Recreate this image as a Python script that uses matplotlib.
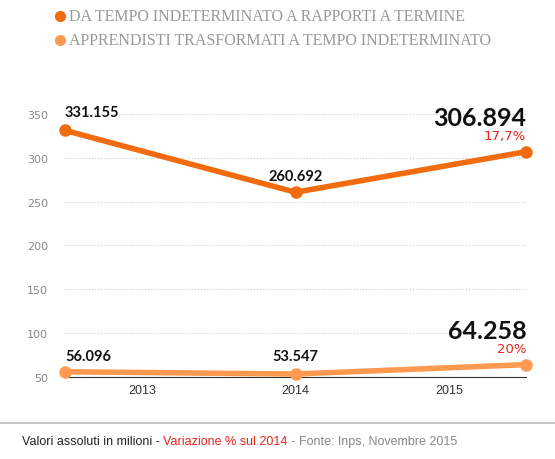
import matplotlib.pyplot as plt
from matplotlib.lines import Line2D

years = ["2013", "2014", "2015"]
xpos = [0, 1.5, 3]
tempo = [331.155, 260.692, 306.894]
appr = [56.096, 53.547, 64.258]
lab_tempo = ["331.155", "260.692", "306.894"]
lab_appr = ["56.096", "53.547", "64.258"]
c1 = "#f26b0f"
c2 = "#ff9a50"

fig = plt.figure(figsize=(5.55, 4.6), dpi=100)
ax = fig.add_axes([0.117, 0.178, 0.831, 0.62])
ax.plot(xpos, tempo, color=c1, lw=4, marker="o", ms=8, solid_capstyle="round", clip_on=False, zorder=3)
ax.plot(xpos, appr, color=c2, lw=4, marker="o", ms=8, solid_capstyle="round", clip_on=False, zorder=3)
ax.set_xlim(0, 3)
ax.set_ylim(50, 375)
ax.set_yticks([50, 100, 150, 200, 250, 300, 350])
ax.tick_params(axis="y", length=0, labelsize=8, labelcolor="#888888", pad=12)
ax.set_xticks([0, 1, 2, 3])
ax.set_xticklabels([])
ax.tick_params(axis="x", length=-6, color="#333333")
for x, y in zip([0.5, 1.5, 2.5], years):
    ax.text(x, 42, y, ha="center", va="top", fontsize=9, family="Liberation Sans", color="#333333")
for s in ["top", "right", "left"]:
    ax.spines[s].set_visible(False)
ax.spines["bottom"].set_color("#333333")
ax.grid(axis="y", ls=":", color="#cccccc", lw=0.8)
ax.set_axisbelow(True)

kw = dict(fontsize=10.5, fontweight="bold", family="Lato", color="#111111")
big = dict(fontsize=18, fontweight="bold", family="Lato", color="#111111")
ax.text(0, tempo[0] + 13, lab_tempo[0], ha="left", va="bottom", **kw)
ax.text(1.5, tempo[1] + 11, lab_tempo[1], ha="center", va="bottom", **kw)
ax.text(3, tempo[2] + 26, lab_tempo[2], ha="right", va="bottom", **big)
ax.text(3, tempo[2] + 11, "17,7%", ha="right", va="bottom", fontsize=9.5, color="#e8231f")
ax.text(0, appr[0] + 10, lab_appr[0], ha="left", va="bottom", **kw)
ax.text(1.5, appr[1] + 13, lab_appr[1], ha="center", va="bottom", **kw)
ax.text(3, appr[2] + 26, lab_appr[2], ha="right", va="bottom", **big)
ax.text(3, appr[2] + 11, "20%", ha="right", va="bottom", fontsize=9.5, color="#e8231f")

fig.text(0.125, 0.962, "DA TEMPO INDETERMINATO A RAPPORTI A TERMINE", fontsize=11.5, family="Liberation Serif", color="#999999", va="center")
fig.text(0.125, 0.91, "APPRENDISTI TRASFORMATI A TEMPO INDETERMINATO", fontsize=11.5, family="Liberation Serif", color="#999999", va="center")
fig.add_artist(Line2D([0.108], [0.962], marker="o", ms=7, color=c1, transform=fig.transFigure))
fig.add_artist(Line2D([0.108], [0.91], marker="o", ms=7, color=c2, transform=fig.transFigure))

fig.add_artist(Line2D([0, 1], [0.078, 0.078], color="#bbbbbb", lw=1.2, transform=fig.transFigure))
parts = [("Valori assoluti in milioni - ", "#222222"),
         ("Variazione % sul 2014", "#e8231f"),
         (" - Fonte: Inps, Novembre 2015", "#888888")]
renderer = fig.canvas.get_renderer()
x = 0.04
for s, c in parts:
    t = fig.text(x, 0.04, s, fontsize=9, family="Liberation Sans", color=c, va="center")
    bb = t.get_window_extent(renderer)
    x += bb.width / fig.bbox.width
fig.savefig("out.png", dpi=100)
